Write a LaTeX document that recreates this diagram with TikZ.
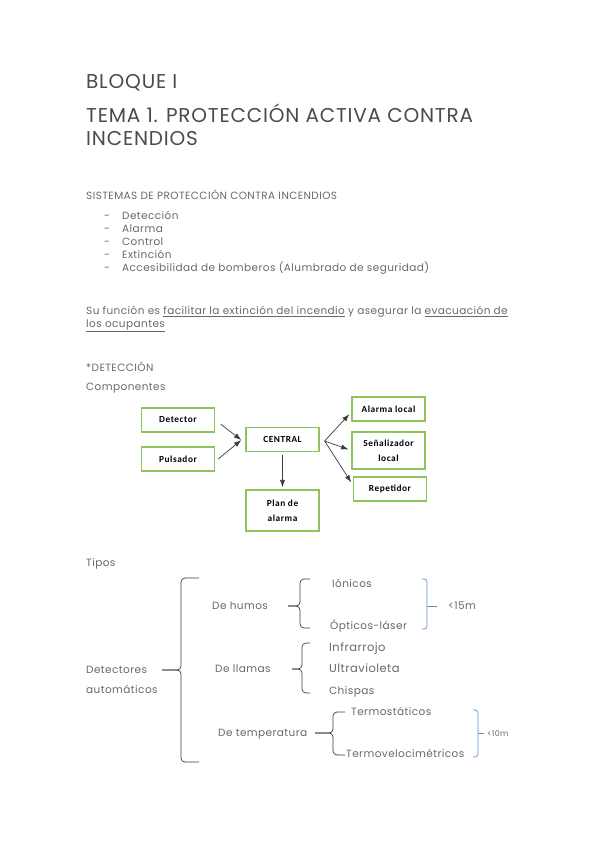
\documentclass[tikz,border=0pt]{standalone}
\usepackage{fontspec}
\setmainfont{Poppins}[LetterSpace=4]
\newfontfamily\boxfont{Carlito}[LetterSpace=6]
\usepackage{tikz}
\usetikzlibrary{positioning,arrows.meta,calc}
\definecolor{txtgray}{RGB}{105,105,105}
\definecolor{titlegray}{RGB}{75,75,75}
\definecolor{boxgreen}{RGB}{142,196,92}
\definecolor{brblue}{RGB}{95,140,210}
\definecolor{arrgray}{RGB}{60,60,60}
\tikzset{
  txt/.style={anchor=base west, inner sep=0pt, text=txtgray, font=\fontsize{10.5}{12}\selectfont},
  titletxt/.style={anchor=base west, inner sep=0pt, text=titlegray, font=\fontsize{20}{24}\selectfont},
  compbox/.style={draw=boxgreen, line width=1.3pt, fill=white, minimum width=73pt, minimum height=24pt, align=center, inner sep=1pt, font=\boxfont\bfseries\fontsize{9.3}{15}\selectfont},
  comparrow/.style={-{Latex[length=2.6mm,width=1.8mm]}, line width=0.7pt, arrgray},
  brc/.style={draw=arrgray, line width=0.7pt, rounded corners=4pt},
  bluebrc/.style={draw=brblue, line width=0.7pt, rounded corners=3pt}
}
% left brace: x, top, bottom, mid, stub end, dash end
\newcommand{\leftbrc}[6]{
  \draw[brc] (#5,#2) -- (#1,#2) -- (#1,#4) -- (#6,#4);
  \draw[brc] (#6,#4) -- (#1,#4) -- (#1,#3) -- (#5,#3);
}
% right bracket: x, top, bottom, mid, stub start, dash end
\newcommand{\rightbrc}[6]{
  \draw[bluebrc] (#5,#2) -- (#1,#2) -- (#1,#3) -- (#5,#3);
  \draw[bluebrc, rounded corners=0pt] (#1,#4) -- (#6,#4);
}
\begin{document}
\begin{tikzpicture}[x=1pt, y=-1pt]
  \useasboundingbox[fill=white] (0,0) rectangle (599,848);

  % headings
  \node[titletxt] (bloque) at (86,89) {BLOQUE I};
  \node[titletxt] (tema1) at (86,122) {TEMA 1. PROTECCIÓN ACTIVA CONTRA};
  \node[titletxt] (tema2) at (86,146) {INCENDIOS};

  \node[txt] (sist) at (86,199) {SISTEMAS DE PROTECCIÓN CONTRA INCENDIOS};
  \foreach \i/\t in {0/Detección, 1/Alarma, 2/Control, 3/Extinción, 4/Accesibilidad de bomberos (Alumbrado de seguridad)} {
    \node[txt] (dash\i) at (104,219.5+13*\i) {-};
    \node[txt] (item\i) at (122,219.5+13*\i) {\t};
  }

  \node[txt] (func1) at (86,314.5) {Su función es \underline{facilitar la extinción del incendio} y asegurar la \underline{evacuación de}};
  \node[txt] (func2) at (86,327.5) {\underline{los ocupantes}};

  \node[txt] (detec) at (86,371) {*DETECCIÓN};
  \node[txt] (compo) at (86,390.5) {Componentes};

  % componentes
  \node[compbox] (det) at (178,420) {Detector};
  \node[compbox] (pul) at (178,459) {Pulsador};
  \node[compbox] (cen) at (282.5,439.5) {CENTRAL};
  \node[compbox, minimum height=41pt] (plan) at (282.5,510.5) {Plan de\\alarma};
  \node[compbox] (alar) at (388.5,409) {Alarma local};
  \node[compbox, minimum height=37pt] (sen) at (388.5,450.5) {Señalizador\\local};
  \node[compbox] (rep) at (390,489) {Repetidor};

  \coordinate (cin) at ($(cen.west)+(-4,0.5)$);
  \coordinate (cout) at ($(cen.east)+(5,1.5)$);
  \draw[comparrow, shorten <=7pt] (det.east) -- (cin);
  \draw[comparrow, shorten <=4pt] ($(pul.east)+(0,2.5)$) -- (cin);
  \draw[comparrow, shorten <=3pt, shorten >=2pt] (cen.south) -- (plan.north);
  \draw[comparrow, shorten >=3pt] (cout) -- ($(alar.west)+(0,3)$);
  \draw[comparrow, shorten >=3pt] (cout) -- (sen.west);
  \draw[comparrow, shorten >=3pt] (cout) -- ($(rep.west)+(0,-4)$);

  % tipos
  \node[txt] (tipos) at (86,566.5) {Tipos};
  \node[txt] (auto1) at (86,673.5) {Detectores};
  \node[txt] (auto2) at (86,693.5) {automáticos};
  \leftbrc{181}{578}{762}{670}{199}{162}

  \node[txt] (humos) at (212,609.5) {De humos};
  \leftbrc{300}{579}{628}{606}{310}{288}
  \node[txt] (ioni) at (332,587.5) {Iónicos};
  \node[txt] (opti) at (330,629.5) {Ópticos-láser};
  \rightbrc{427}{579}{629}{606}{422}{437}
  \node[txt] (lim15) at (448,609.5) {<15m};

  \node[txt] (llamas) at (215,672.5) {De llamas};
  \leftbrc{302}{643}{693}{669}{310}{292}
  \node[txt, font=\fontsize{11.5}{13}\selectfont] (infra) at (329,651.5) {Infrarrojo};
  \node[txt, font=\fontsize{11.5}{13}\selectfont] (ultra) at (329,672.5) {Ultravioleta};
  \node[txt] (chisp) at (329,694.5) {Chispas};

  \node[txt] (temp) at (218,736.5) {De temperatura};
  \leftbrc{333}{712}{755}{733}{345}{315}
  \node[txt] (termo) at (351,715.5) {Termostáticos};
  \node[txt] (velo) at (346,757.5) {Termovelocimétricos};
  \rightbrc{478}{710}{757}{733}{473}{484}
  \node[txt, font=\fontsize{8}{9}\selectfont] (lim10) at (487,736) {<10m};
\end{tikzpicture}
\end{document}
